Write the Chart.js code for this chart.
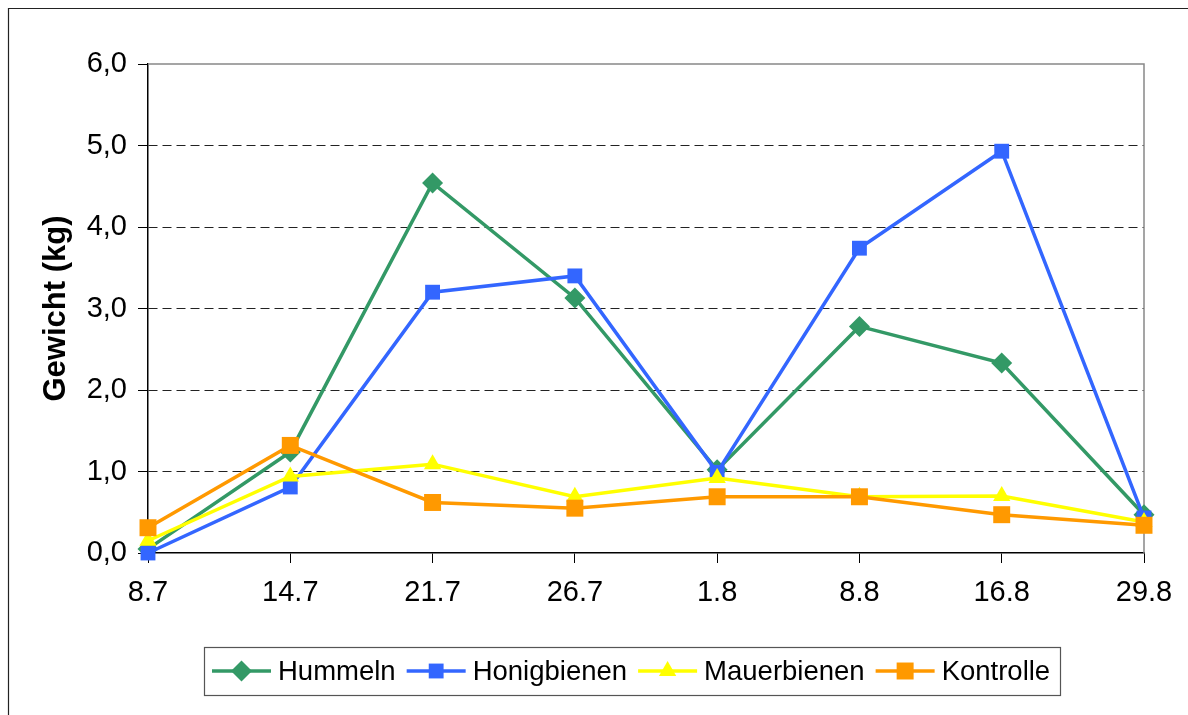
<!DOCTYPE html>
<html>
<head>
<meta charset="utf-8">
<script src="https://cdn.jsdelivr.net/npm/chart.js@4/dist/chart.umd.min.js"></script>
<style>
  html, body { margin: 0; padding: 0; background: #fff; }
  canvas { display: block; }
</style>
</head>
<body>
<canvas id="c" width="1188" height="715"></canvas>
<script>
const categories = ['8.7', '14.7', '21.7', '26.7', '1.8', '8.8', '16.8', '29.8'];
const hummeln     = [0.05, 1.24, 4.54, 3.13, 1.02, 2.78, 2.33, 0.47];
const honigbienen = [0.00, 0.81, 3.20, 3.40, 0.99, 3.74, 4.93, 0.43];
const mauerbienen = [0.15, 0.94, 1.09, 0.69, 0.92, 0.69, 0.70, 0.38];
const kontrolle   = [0.31, 1.32, 0.62, 0.55, 0.69, 0.69, 0.47, 0.34];
const yTicks = [0, 1, 2, 3, 4, 5, 6];

const FONT = '"Liberation Sans", Arial, sans-serif';

function drawMarker(ctx, style, x, y, r, color) {
  ctx.save();
  ctx.fillStyle = color;
  ctx.beginPath();
  if (style === 'rectRot') {
    ctx.moveTo(x, y - r); ctx.lineTo(x + r, y); ctx.lineTo(x, y + r); ctx.lineTo(x - r, y);
  } else if (style === 'rect') {
    const s = Math.SQRT1_2 * r;
    ctx.rect(x - s, y - s, 2 * s, 2 * s);
  } else if (style === 'triangle') {
    for (let i = 0; i < 3; i++) {
      const a = i * 2 * Math.PI / 3;
      const px = x + Math.sin(a) * r, py = y - Math.cos(a) * r;
      if (i === 0) ctx.moveTo(px, py); else ctx.lineTo(px, py);
    }
  }
  ctx.closePath();
  ctx.fill();
  ctx.restore();
}

const framePlugin = {
  id: 'frame',
  beforeDraw(chart) {
    const ctx = chart.ctx;
    ctx.save();
    ctx.fillStyle = '#fff';
    ctx.fillRect(0, 0, chart.width, chart.height);
    ctx.strokeStyle = '#222';
    ctx.lineWidth = 1.2;
    ctx.beginPath();
    ctx.moveTo(8.5, chart.height + 5);
    ctx.lineTo(8.5, 8.5);
    ctx.lineTo(chart.width + 5, 8.5);
    ctx.stroke();
    ctx.restore();
  },
  beforeDatasetsDraw(chart) {
    const {ctx, chartArea: a} = chart;
    ctx.save();
    ctx.strokeStyle = '#888';
    ctx.lineWidth = 1.5;
    ctx.beginPath();
    ctx.moveTo(a.left, a.top);
    ctx.lineTo(a.right, a.top);
    ctx.lineTo(a.right, a.bottom);
    ctx.stroke();
    ctx.restore();
  },
  afterDraw(chart) {
    const ctx = chart.ctx;
    const boxL = 204.5, boxT = 647.5, boxR = 1060.5, boxB = 695.5;
    ctx.save();
    ctx.fillStyle = '#fff';
    ctx.fillRect(boxL, boxT, boxR - boxL, boxB - boxT);
    ctx.strokeStyle = '#555';
    ctx.lineWidth = 1.2;
    ctx.strokeRect(boxL, boxT, boxR - boxL, boxB - boxT);
    ctx.font = '27.5px ' + FONT;
    ctx.textBaseline = 'middle';
    ctx.fillStyle = '#000';
    const cy = 671;
    let x = 212;
    chart.data.datasets.forEach(ds => {
      ctx.strokeStyle = ds.borderColor;
      ctx.lineWidth = 3.5;
      ctx.beginPath();
      ctx.moveTo(x, cy);
      ctx.lineTo(x + 59, cy);
      ctx.stroke();
      drawMarker(ctx, ds.pointStyle, x + 29.5, cy, ds.pointRadius, ds.pointBackgroundColor);
      x += 66;
      ctx.fillStyle = '#000';
      ctx.fillText(ds.label, x, cy + 1);
      x += ctx.measureText(ds.label).width + 11;
    });
    ctx.restore();
  }
};

function series(label, data, color, style, radius, order) {
  return {
    label, data, order,
    borderColor: color,
    backgroundColor: color,
    borderWidth: 3.5,
    pointStyle: style,
    pointRadius: radius,
    pointHoverRadius: radius,
    pointBackgroundColor: color,
    pointBorderColor: color,
    pointBorderWidth: 0,
    tension: 0,
    clip: false
  };
}

new Chart(document.getElementById('c'), {
  type: 'line',
  data: {
    labels: categories,
    datasets: [
      series('Hummeln', hummeln, '#339966', 'rectRot', 10.5, 3),
      series('Honigbienen', honigbienen, '#3366FF', 'rect', 10.5, 2),
      series('Mauerbienen', mauerbienen, '#FFFF00', 'triangle', 10, 1),
      series('Kontrolle', kontrolle, '#FF9900', 'rect', 12, 0)
    ]
  },
  options: {
    responsive: false,
    animation: false,
    devicePixelRatio: 1,
    events: [],
    layout: { padding: { left: 0, top: 64, right: 44, bottom: 0 } },
    plugins: {
      legend: { display: false },
      tooltip: { enabled: false },
      title: { display: false }
    },
    scales: {
      x: {
        type: 'category',
        offset: false,
        afterFit(s) { s.height = 162; },
        grid: { drawOnChartArea: false, drawTicks: true, tickLength: 10, tickColor: '#000', tickWidth: 1 },
        border: { display: true, color: '#000', width: 1.5 },
        ticks: { color: '#000', font: { family: FONT, size: 29 }, padding: 13, maxRotation: 0, autoSkip: false }
      },
      y: {
        min: 0, max: 6,
        afterFit(s) { s.width = 148; },
        afterBuildTicks(s) { s.ticks = yTicks.map(v => ({ value: v })); },
        grid: {
          color: c => (c.tick && (c.tick.value === 0 || c.tick.value === 6)) ? 'rgba(0,0,0,0)' : '#222',
          lineWidth: 1,
          drawTicks: true, tickLength: 10, tickColor: '#000', tickWidth: 1, tickBorderDash: []
        },
        border: { display: true, color: '#000', width: 1.5, dash: [9, 5] },
        ticks: {
          color: '#000', font: { family: FONT, size: 29 }, padding: 11,
          callback: v => v.toFixed(1).replace('.', ',')
        },
        title: {
          display: true, text: 'Gewicht (kg)', color: '#000',
          font: { family: FONT, size: 31, weight: 'bold' },
          padding: { top: 38, bottom: 0 }
        }
      }
    }
  },
  plugins: [framePlugin]
});
</script>
</body>
</html>
